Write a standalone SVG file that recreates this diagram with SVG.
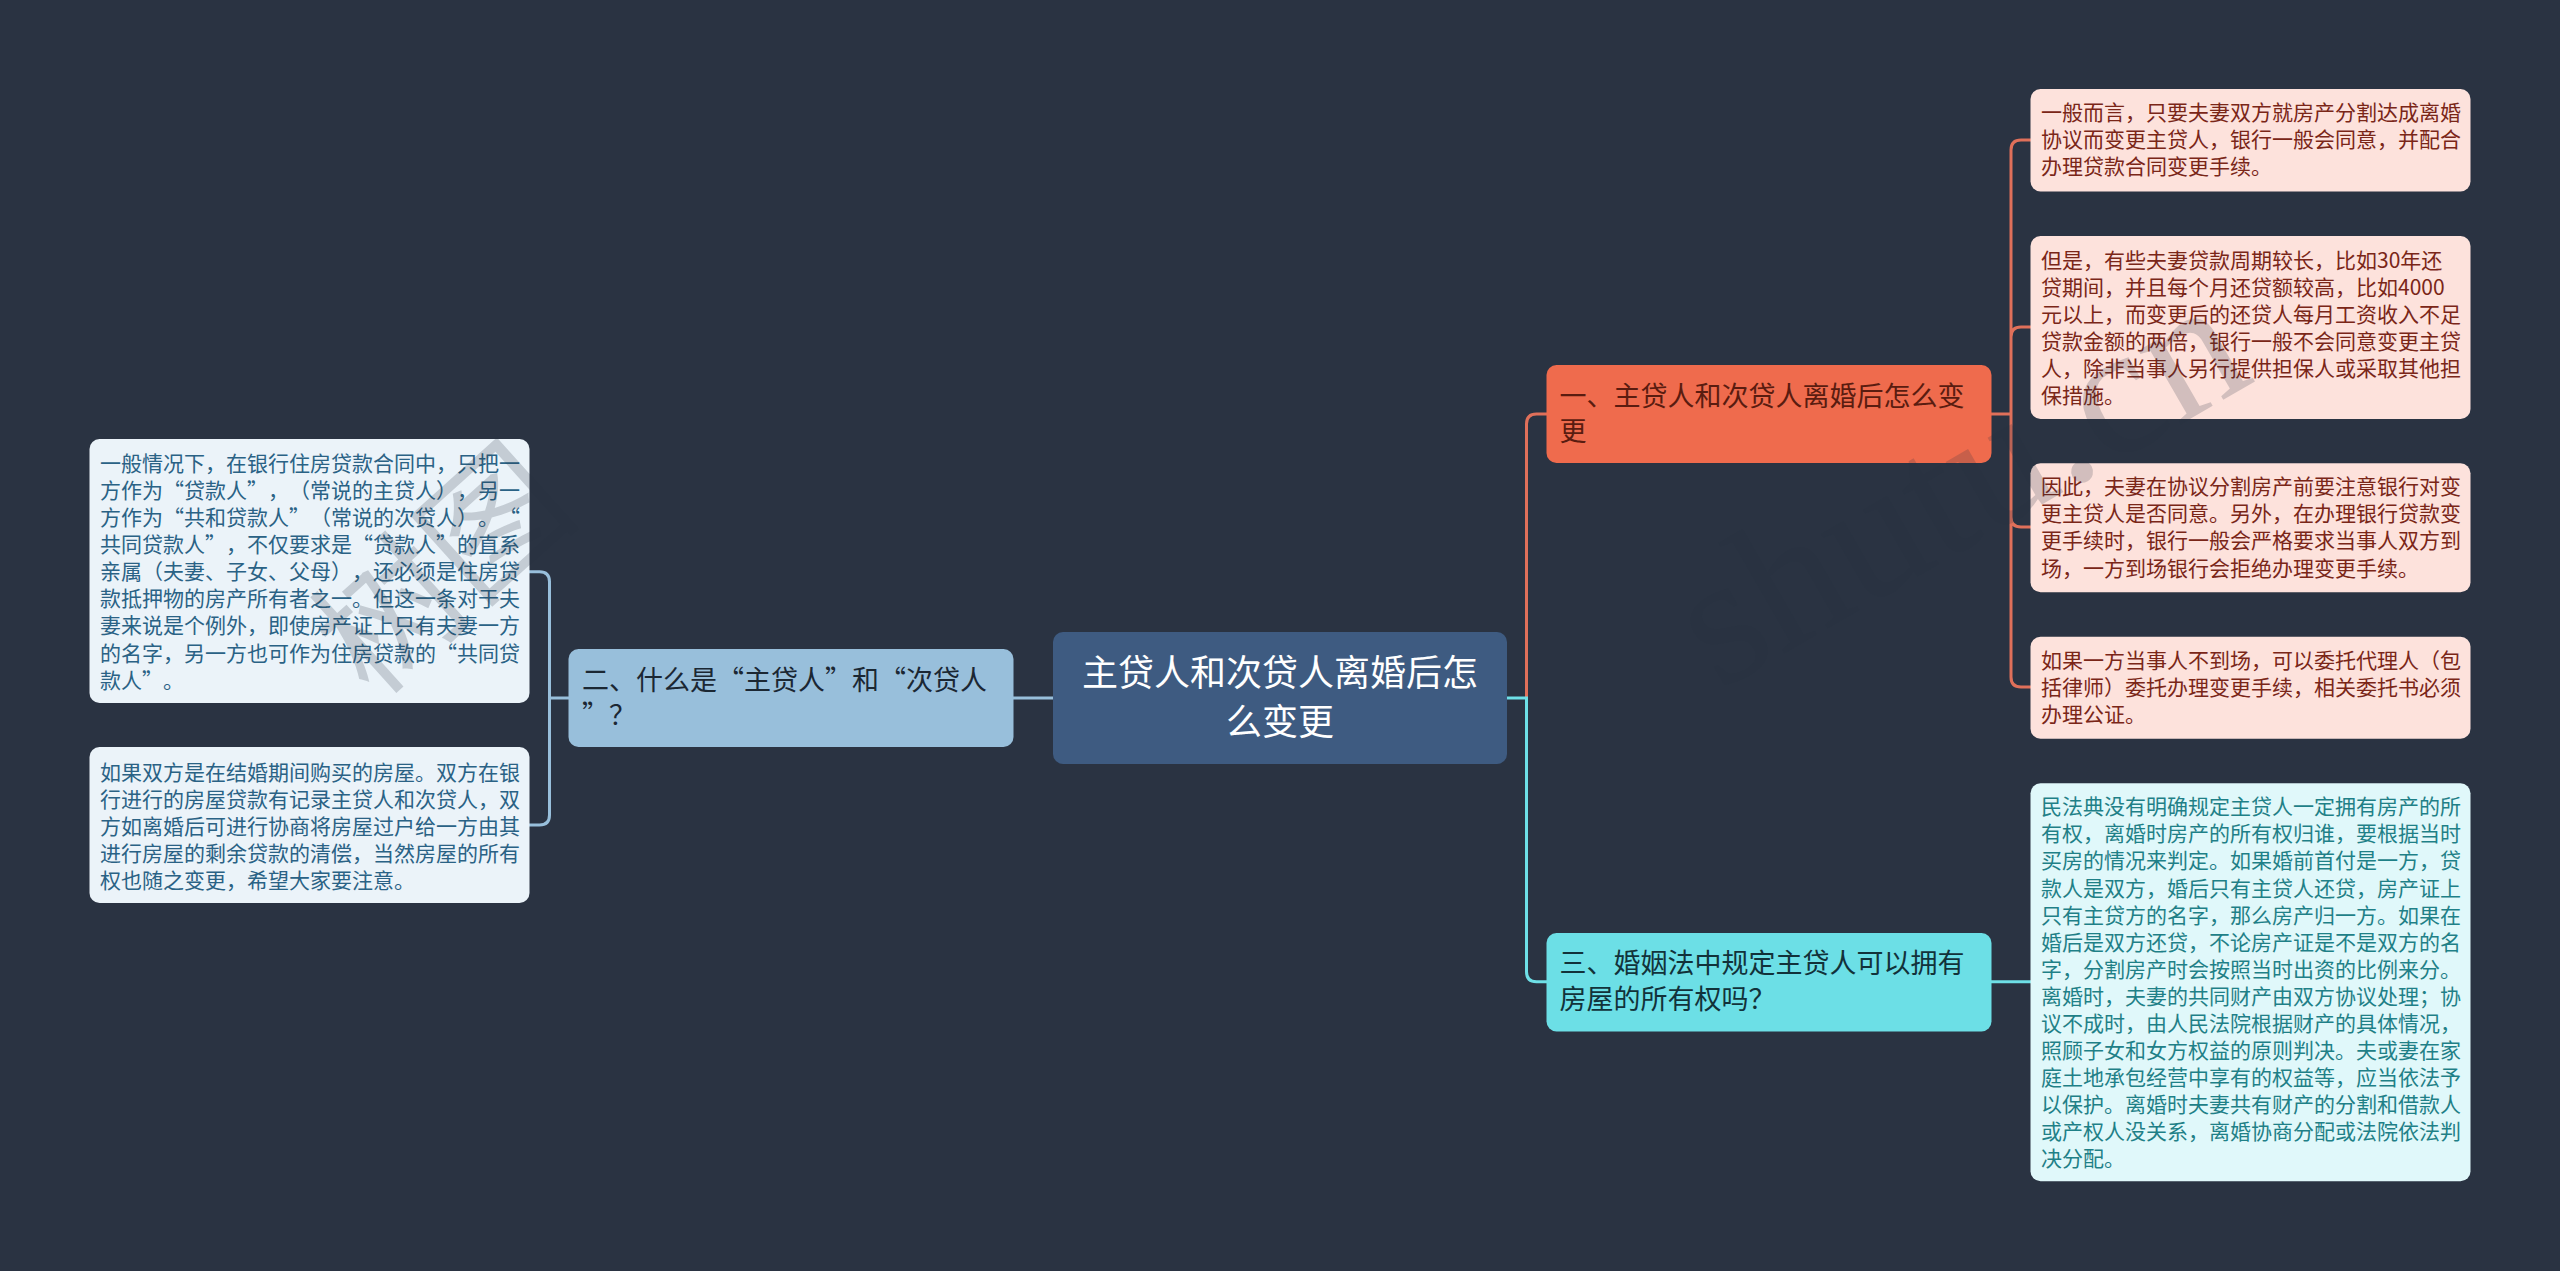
<svg xmlns="http://www.w3.org/2000/svg" width="2560" height="1271" viewBox="0 0 2560 1271">
<style>
text{font-family:"Noto Sans CJK SC","Liberation Sans",sans-serif;text-spacing-trim:space-all;font-kerning:none}
.leaf{font-size:21px}
.branch{font-size:27px}
.conn{fill:none;stroke-width:3;stroke-linecap:butt}
.red{stroke:#e0705a}.blue{stroke:#98bfdb}.cyan{stroke:#6ee0e7}
.lb rect{fill:#ebf3f9}.lb text{fill:#2a6285}
.lr rect{fill:#fde2dc}.lr text{fill:#7a2618}
.lc rect{fill:#e0f8fa}.lc text{fill:#1f8087}
.wm{fill:#2a3342;fill-opacity:.2}
</style>
<rect width="2560" height="1271" fill="#2a3342"/>
<g id="connectors">
<path class="conn red" d="M1526.5 698V424Q1526.5 414 1536.5 414H1547"/>
<path class="conn cyan" d="M1507 698H1526.5V971.7Q1526.5 981.7 1536.5 981.7H1547"/>
<path class="conn blue" d="M1053 698H1013"/>
<path class="conn cyan" d="M1991 981.7H2031"/>
<path class="conn red" d="M1991 414H2011M2031 140H2021Q2011 140 2011 150V677Q2011 687 2021 687H2031M2031 327H2021Q2011 327 2011 337V517Q2011 527 2021 527H2031"/>
<path class="conn blue" d="M569 698H549.5M529 571.7H539.5Q549.5 571.7 549.5 581.7V815Q549.5 825 539.5 825H529"/>
</g>
<g id="root"><rect x="1053" y="632" width="454" height="132" rx="10" fill="#3e5b81"/>
<text x="1280" y="686" font-size="36" fill="#fff" text-anchor="middle">主贷人和次贷人离婚后怎<tspan x="1280" dy="49">么变更</tspan></text></g>
<g id="n2"><rect x="568.5" y="649" width="445" height="98" rx="10" fill="#98bfdb"/>
<text class="branch" x="582" y="690" fill="#1b2733">二、什么是“主贷人”和“次贷人<tspan x="582" dy="35">”？</tspan></text></g>
<g id="n1"><rect x="1546.5" y="365" width="445" height="98" rx="10" fill="#ef6b4d"/>
<text class="branch" x="1559.5" y="406" fill="#5a1c10">一、主贷人和次贷人离婚后怎么变<tspan x="1559.5" dy="35">更</tspan></text></g>
<g id="n3"><rect x="1546.5" y="933" width="445" height="98.5" rx="10" fill="#6cdfe6"/>
<text class="branch" x="1559.5" y="973" fill="#12323a">三、婚姻法中规定主贷人可以拥有<tspan x="1559.5" dy="35.5">房屋的所有权吗？</tspan></text></g>
<g id="l1" class="lb"><rect x="89.5" y="439" width="440" height="264" rx="10"/>
<text class="leaf" x="100" y="471">一般情况下，在银行住房贷款合同中，只把一<tspan x="100" dy="27.08">方作为“贷款人”，（常说的主贷人），另一</tspan><tspan x="100" dy="27.08">方作为“共和贷款人”（常说的次贷人）。“</tspan><tspan x="100" dy="27.08">共同贷款人”，不仅要求是“贷款人”的直系</tspan><tspan x="100" dy="27.08">亲属（夫妻、子女、父母），还必须是住房贷</tspan><tspan x="100" dy="27.08">款抵押物的房产所有者之一。但这一条对于夫</tspan><tspan x="100" dy="27.08">妻来说是个例外，即使房产证上只有夫妻一方</tspan><tspan x="100" dy="27.08">的名字，另一方也可作为住房贷款的“共同贷</tspan><tspan x="100" dy="27.08">款人”。</tspan></text></g>
<g id="l2" class="lb"><rect x="89.5" y="747" width="440" height="156" rx="10"/>
<text class="leaf" x="100" y="779.7">如果双方是在结婚期间购买的房屋。双方在银<tspan x="100" dy="27.08">行进行的房屋贷款有记录主贷人和次贷人，双</tspan><tspan x="100" dy="27.08">方如离婚后可进行协商将房屋过户给一方由其</tspan><tspan x="100" dy="27.08">进行房屋的剩余贷款的清偿，当然房屋的所有</tspan><tspan x="100" dy="27.08">权也随之变更，希望大家要注意。</tspan></text></g>
<g id="r1" class="lr"><rect x="2030.5" y="89" width="440" height="102.5" rx="10"/>
<text class="leaf" x="2041" y="120.3">一般而言，只要夫妻双方就房产分割达成离婚<tspan x="2041" dy="27.08">协议而变更主贷人，银行一般会同意，并配合</tspan><tspan x="2041" dy="27.08">办理贷款合同变更手续。</tspan></text></g>
<g id="r2" class="lr"><rect x="2030.5" y="236" width="440" height="183" rx="10"/>
<text class="leaf" x="2041" y="267.7">但是，有些夫妻贷款周期较长，比如30年还<tspan x="2041" dy="27.08">贷期间，并且每个月还贷额较高，比如4000</tspan><tspan x="2041" dy="27.08">元以上，而变更后的还贷人每月工资收入不足</tspan><tspan x="2041" dy="27.08">贷款金额的两倍，银行一般不会同意变更主贷</tspan><tspan x="2041" dy="27.08">人，除非当事人另行提供担保人或采取其他担</tspan><tspan x="2041" dy="27.08">保措施。</tspan></text></g>
<g id="r3" class="lr"><rect x="2030.5" y="463.3" width="440" height="129" rx="10"/>
<text class="leaf" x="2041" y="494.3">因此，夫妻在协议分割房产前要注意银行对变<tspan x="2041" dy="27.08">更主贷人是否同意。另外，在办理银行贷款变</tspan><tspan x="2041" dy="27.08">更手续时，银行一般会严格要求当事人双方到</tspan><tspan x="2041" dy="27.08">场，一方到场银行会拒绝办理变更手续。</tspan></text></g>
<g id="r4" class="lr"><rect x="2030.5" y="636.7" width="440" height="102" rx="10"/>
<text class="leaf" x="2041" y="667.7">如果一方当事人不到场，可以委托代理人（包<tspan x="2041" dy="27.08">括律师）委托办理变更手续，相关委托书必须</tspan><tspan x="2041" dy="27.08">办理公证。</tspan></text></g>
<g id="r5" class="lc"><rect x="2030.5" y="783.3" width="440" height="398" rx="10"/>
<text class="leaf" x="2041" y="814.3">民法典没有明确规定主贷人一定拥有房产的所<tspan x="2041" dy="27.08">有权，离婚时房产的所有权归谁，要根据当时</tspan><tspan x="2041" dy="27.08">买房的情况来判定。如果婚前首付是一方，贷</tspan><tspan x="2041" dy="27.08">款人是双方，婚后只有主贷人还贷，房产证上</tspan><tspan x="2041" dy="27.08">只有主贷方的名字，那么房产归一方。如果在</tspan><tspan x="2041" dy="27.08">婚后是双方还贷，不论房产证是不是双方的名</tspan><tspan x="2041" dy="27.08">字，分割房产时会按照当时出资的比例来分。</tspan><tspan x="2041" dy="27.08">离婚时，夫妻的共同财产由双方协议处理；协</tspan><tspan x="2041" dy="27.08">议不成时，由人民法院根据财产的具体情况，</tspan><tspan x="2041" dy="27.08">照顾子女和女方权益的原则判决。夫或妻在家</tspan><tspan x="2041" dy="27.08">庭土地承包经营中享有的权益等，应当依法予</tspan><tspan x="2041" dy="27.08">以保护。离婚时夫妻共有财产的分割和借款人</tspan><tspan x="2041" dy="27.08">或产权人没关系，离婚协商分配或法院依法判</tspan><tspan x="2041" dy="27.08">决分配。</tspan></text></g>
<g id="watermark">
<text class="wm" font-size="140" transform="translate(372 700) rotate(-42)">树图</text>
<text class="wm" font-size="185" transform="translate(1719 691) rotate(-30)" style="font-family:'Liberation Serif',serif">shutu.cn</text>
</g>
</svg>
